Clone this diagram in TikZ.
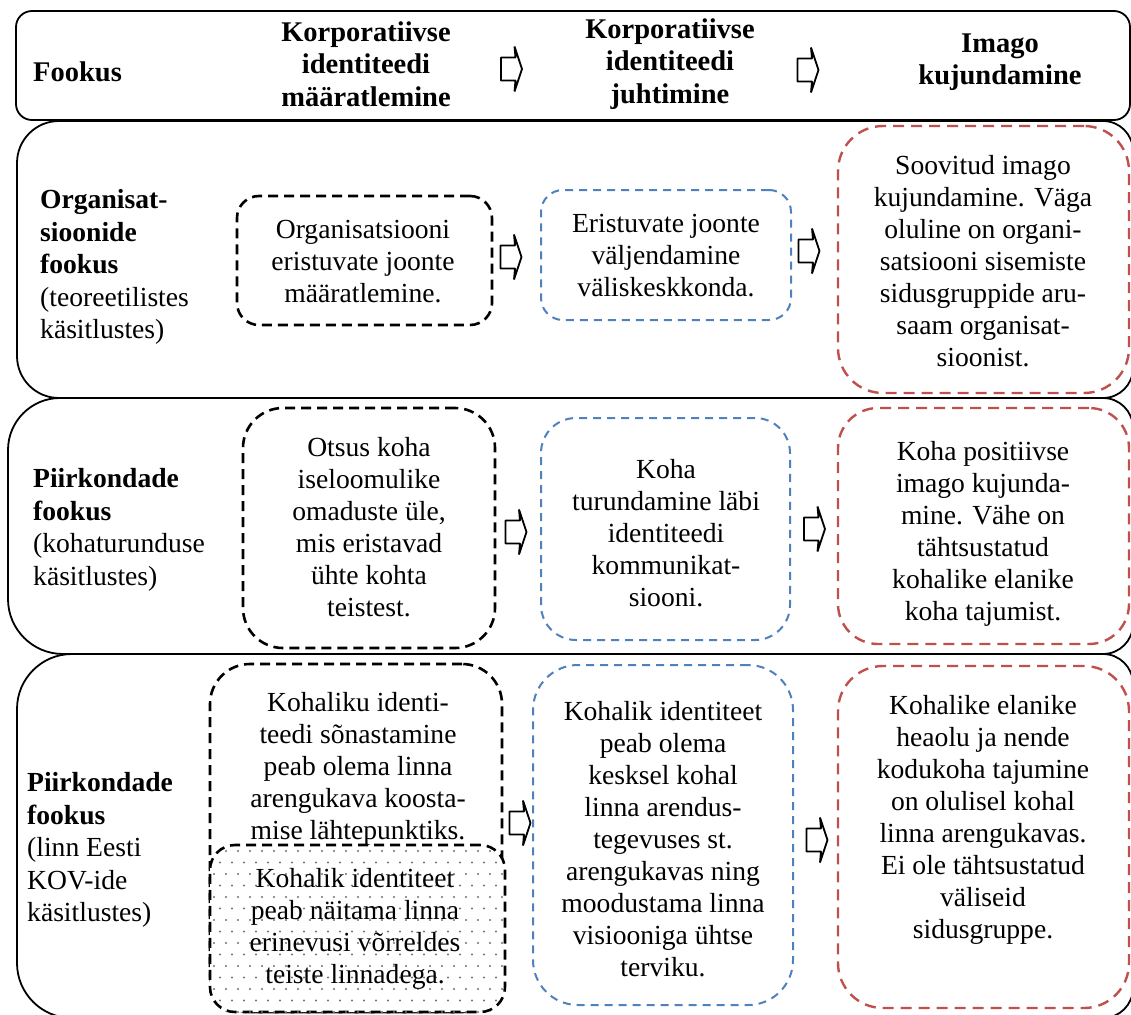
\documentclass[tikz,border=0pt]{standalone}
\usepackage{fontspec}
\setmainfont{Liberation Serif}
\definecolor{boxblue}{HTML}{4F81BD}
\definecolor{boxred}{HTML}{C0504D}
\definecolor{dotgray}{gray}{0.45}

\begin{document}
\begin{tikzpicture}[x=1pt,y=-1pt,
  txt/.style={align=center, inner sep=0pt, font=\fontsize{27.6}{32}\selectfont},
  hdr/.style={align=center, inner sep=0pt, font=\fontsize{28.5}{32.5}\selectfont\bfseries},
  lbl/.style={align=left, anchor=west, inner sep=0pt, font=\fontsize{27.6}{32.5}\selectfont},
  frame/.style={draw=black, line width=1.8pt},
  blackbox/.style={rectangle, draw=black, line width=2.6pt, dash pattern=on 10pt off 6pt, inner sep=0pt},
  bluebox/.style={rectangle, draw=boxblue, line width=2pt, dash pattern=on 8pt off 6pt, inner sep=0pt},
  redbox/.style={rectangle, draw=boxred, line width=2.4pt, dash pattern=on 11pt off 7pt, inner sep=0pt},
  blockarr/.pic={
    \draw[line width=1.8pt, fill=white, line join=bevel]
      (-10.5,-11.5) -- (4,-11.5) -- (3,-22.5) -- (10.5,0) -- (3,22.5) -- (4,11.5) -- (-10.5,11.5) -- cycle;
  }
]
\useasboundingbox (0,0) rectangle (1131,1014);
\clip (0,0) rectangle (1131,1014);
\fill[white] (0,0) rectangle (1131,1014);

% header band
\node[frame, rectangle, rounded corners=16pt, minimum width=1114pt, minimum height=109pt, inner sep=0pt] (head) at (573,65.5) {};
% row bands (larger radius on the left side)
\draw[frame] (17,260) [rounded corners=42pt] |- (600,121) [rounded corners=30pt] -| (1133,260) |- (600,398) [rounded corners=42pt] -| (17,260);
\draw[frame] (8,526) [rounded corners=52pt] |- (600,398) [rounded corners=30pt] -| (1133,526) |- (600,654) [rounded corners=55pt] -| (8,526);
\draw[frame] (17,840) [rounded corners=55pt] |- (600,654) [rounded corners=30pt] -| (1133,840) |- (600,1018) [rounded corners=55pt] -| (17,840);

% header texts
\node[hdr, anchor=west] (hfocus) at (33,72) {Fookus};
\node[hdr] (hc1) at (366,64) {Korporatiivse\\identiteedi\\määratlemine};
\node[hdr] (hc2) at (670,64) {Korporatiivse\\identiteedi\\juhtimine};
\node[hdr] (hc3) at (1000,62) {Imago\\kujundamine};
\pic (ha1) at (511.5,69) {blockarr};
\pic (ha2) at (808,70) {blockarr};

% row labels
\node[lbl] (l1) at (40,267) {\textbf{Organisat-}\\\textbf{sioonide}\\\textbf{fookus}\\(teoreetilistes\\käsitlustes)};
\node[lbl] (l2) at (33,530) {\textbf{Piirkondade}\\\textbf{fookus}\\(kohaturunduse\\käsitlustes)};
\node[lbl] (l3) at (27,850) {\textbf{Piirkondade}\\\textbf{fookus}\\(linn Eesti\\KOV-ide\\käsitlustes)};

% row 1
\node[blackbox, rounded corners=22pt, minimum width=255pt, minimum height=129pt] (b11) at (364.5,260.5) {};
\node[bluebox, rounded corners=22pt, minimum width=250pt, minimum height=130pt] (b12) at (666,255) {};
\node[redbox, rounded corners=45pt, minimum width=291pt, minimum height=267pt] (b13) at (983.5,259.5) {};
\node[txt] (t11) at (363,262) {Organisatsiooni\\eristuvate joonte\\määratlemine.};
\node[txt] (t12) at (666,256) {Eristuvate joonte\\väljendamine\\väliskeskkonda.};
\node[txt] (t13) at (983,261.5) {Soovitud imago\\kujundamine. Väga\\oluline on organi-\\satsiooni sisemiste\\sidusgruppide aru-\\saam organisat-\\sioonist.};
\pic (a11) at (511,257) {blockarr};
\pic (a12) at (809,251) {blockarr};

% row 2
\node[blackbox, rounded corners=40pt, minimum width=252pt, minimum height=240pt] (b21) at (369,528) {};
\node[bluebox, rounded corners=35pt, minimum width=249pt, minimum height=222pt] (b22) at (665.5,529) {};
\node[redbox, rounded corners=40pt, minimum width=291pt, minimum height=236pt] (b23) at (983.5,526) {};
\node[txt] (t21) at (369,527.5) {Otsus koha\\iseloomulike\\omaduste üle,\\mis eristavad\\ühte kohta\\teistest.};
\node[txt] (t22) at (666,533.5) {Koha\\turundamine läbi\\identiteedi\\kommunikat-\\siooni.};
\node[txt] (t23) at (983,534) {Koha positiivse\\imago kujunda-\\mine. Vähe on\\tähtsustatud\\kohalike elanike\\koha tajumist.};
\pic (a21) at (516,532) {blockarr};
\pic (a22) at (814.5,529) {blockarr};

% row 3
\node[blackbox, rounded corners=40pt, minimum width=292pt, minimum height=348pt] (b31) at (356,838) {};
\node[blackbox, fill=white, rounded corners=25pt, minimum width=295pt, minimum height=167pt] (b31d) at (357.5,928.5) {};
\begin{scope}
  \clip[rounded corners=25pt] (b31d.south west) rectangle (b31d.north east);
  \foreach \j in {0,...,15} {
    \pgfmathsetmacro\rowoff{mod(\j,2)*6}
    \foreach \i in {0,...,25} {
      \fill[dotgray] ({214+\i*12+\rowoff},{851+\j*11.5}) circle[radius=1.1pt];
    }
  }
\end{scope}
\node[bluebox, rounded corners=45pt, minimum width=260pt, minimum height=340pt] (b32) at (663,835) {};
\node[redbox, rounded corners=45pt, minimum width=291pt, minimum height=342pt] (b33) at (983.5,837) {};
\node[txt] (t31) at (358,768.5) {Kohaliku identi-\\teedi sõnastamine\\peab olema linna\\arengukava koosta-\\mise lähtepunktiks.};
\node[txt] (t31d) at (355,928.5) {Kohalik identiteet\\peab näitama linna\\erinevusi võrreldes\\teiste linnadega.};
\node[txt] (t32) at (663,839) {Kohalik identiteet\\peab olema\\kesksel kohal\\linna arendus-\\tegevuses st.\\arengukavas ning\\moodustama linna\\visiooniga ühtse\\terviku.};
\node[txt] (t33) at (983,820) {Kohalike elanike\\heaolu ja nende\\kodukoha tajumine\\on olulisel kohal\\linna arengukavas.\\Ei ole tähtsustatud\\väliseid\\sidusgruppe.};
\pic (a31) at (520,823) {blockarr};
\pic (a32) at (817,840) {blockarr};
\end{tikzpicture}
\end{document}
